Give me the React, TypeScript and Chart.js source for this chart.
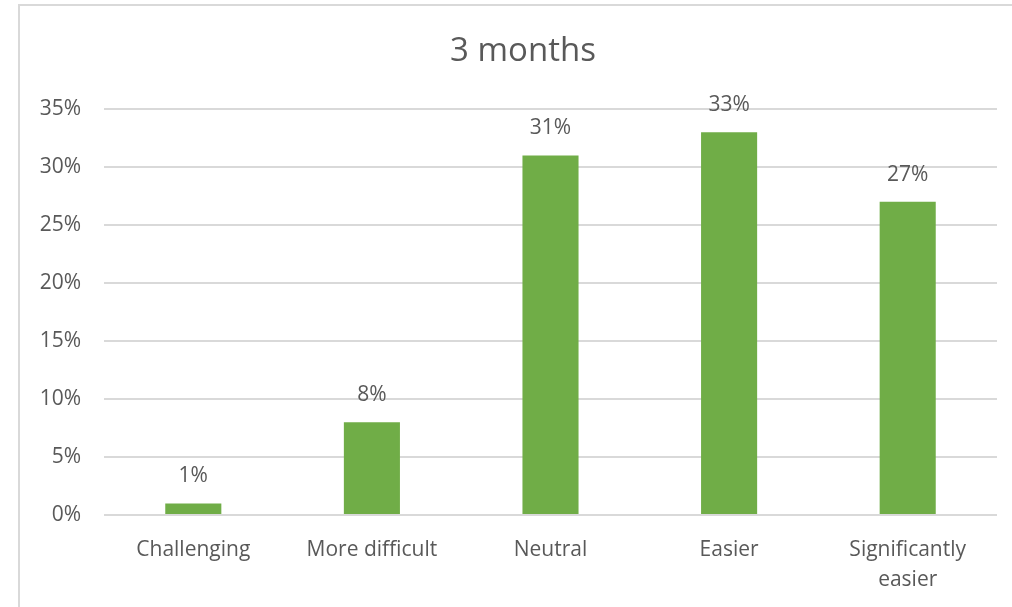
import React, { useEffect, useRef } from "react";
import { Chart, registerables } from "chart.js";

Chart.register(...registerables);

const TITLE = "3 months";
const categories: (string | string[])[] = [
  "Challenging",
  "More difficult",
  "Neutral",
  "Easier",
  ["Significantly", "easier"],
];
const values = [1, 8, 31, 33, 27];
const yMax = 35;
const yStep = 5;

const FONT = "'Open Sans', 'Noto Sans', sans-serif";
const TEXT = "#595959";
const GREEN = "#70AD47";
const GRID = "#d9d9d9";

const dataLabelPlugin = {
  id: "dataLabels",
  afterDatasetsDraw(chart: any) {
    const ctx = chart.ctx;
    const meta = chart.getDatasetMeta(0);
    ctx.save();
    ctx.fillStyle = TEXT;
    ctx.font = `21px ${FONT}`;
    ctx.textAlign = "center";
    ctx.textBaseline = "middle";
    meta.data.forEach((bar: any, i: number) => {
      ctx.fillText(`${values[i]}%`, bar.x, bar.y - 27);
    });
    ctx.restore();
  },
};

const titlePlugin = {
  id: "centredTitle",
  afterDraw(chart: any) {
    const ctx = chart.ctx;
    ctx.save();
    ctx.fillStyle = TEXT;
    ctx.font = `33px ${FONT}`;
    ctx.textAlign = "center";
    ctx.textBaseline = "middle";
    ctx.fillText(TITLE, 523, 52);
    ctx.restore();
  },
};

export default function App() {
  const ref = useRef<HTMLCanvasElement | null>(null);
  useEffect(() => {
    if (!ref.current) return;
    const chart = new Chart(ref.current, {
      type: "bar",
      data: {
        labels: categories,
        datasets: [
          {
            data: values,
            backgroundColor: GREEN,
            borderWidth: 0,
            categoryPercentage: 1,
            barPercentage: 0.314,
          },
        ],
      },
      options: {
        animation: false,
        responsive: false,
        maintainAspectRatio: false,
        layout: { padding: { left: 0, right: 15, top: 109, bottom: 0 } },
        plugins: {
          legend: { display: false },
          tooltip: { enabled: false },
          title: { display: false },
        },
        scales: {
          x: {
            grid: { display: false, drawTicks: false },
            border: { display: false },
            ticks: {
              color: TEXT,
              font: { family: FONT, size: 21, lineHeight: 1.43 },
              padding: 20,
              maxRotation: 0,
              autoSkip: false,
            },
            afterFit(scale: any) {
              scale.height = 92;
            },
          },
          y: {
            min: 0,
            max: yMax,
            grid: { color: GRID, lineWidth: 2, drawTicks: false },
            border: { display: false },
            ticks: {
              stepSize: yStep,
              color: TEXT,
              font: { family: FONT, size: 21 },
              padding: 23,
              callback: (v: any) => `${v}%`,
            },
            afterFit(scale: any) {
              scale.width = 104;
            },
          },
        },
      },
      plugins: [dataLabelPlugin, titlePlugin],
    });
    return () => chart.destroy();
  }, []);

  return (
    <div
      style={{
        position: "fixed",
        left: 0,
        top: 0,
        width: 1012,
        height: 607,
        overflow: "hidden",
        background: "#fff",
      }}
    >
      <div
        style={{
          position: "absolute",
          left: 18,
          top: 4,
          width: 1100,
          height: 700,
          border: `2px solid ${GRID}`,
        }}
      />
      <canvas
        ref={ref}
        width={1012}
        height={607}
        style={{ position: "absolute", left: 0, top: 0, width: 1012, height: 607 }}
      />
    </div>
  );
}
